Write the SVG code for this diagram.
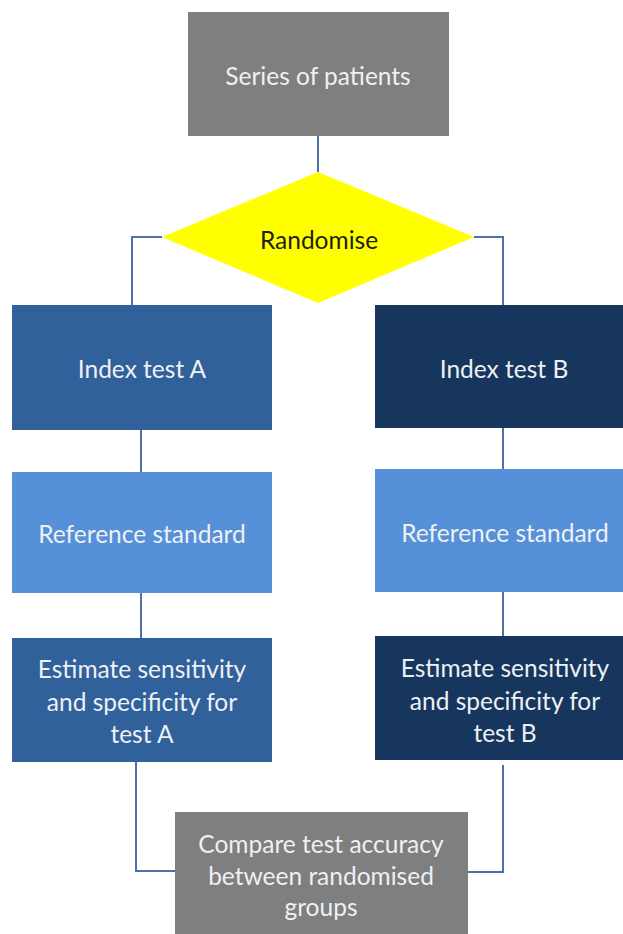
<svg xmlns="http://www.w3.org/2000/svg" width="623" height="934" viewBox="0 0 623 934">
<style>
.t{font-family:Lato,"Open Sans","Liberation Sans",sans-serif;font-size:24.5px;fill:#eef0f4;text-anchor:middle;dominant-baseline:central}
.dk{fill:#1e1e10}
.gray{fill:#7f7f7f}
.a{fill:#30619b}
.b{fill:#17365d}
.r{fill:#5590d8}
.c{fill:none;stroke:#4f72a6;stroke-width:2}
</style>
<rect width="623" height="934" fill="#ffffff"/>
<g id="connectors">
<path class="c" d="M318 136V172"/>
<path class="c" d="M162 237H132V305"/>
<path class="c" d="M474 237H503V305"/>
<path class="c" d="M141 430V472"/>
<path class="c" d="M503 428V469"/>
<path class="c" d="M141 593V638"/>
<path class="c" d="M503 592V636"/>
<path class="c" d="M136 762V871H175"/>
<path class="c" d="M503 765V872H468"/>
</g>
<g id="series">
<rect class="gray" x="188" y="12" width="261" height="124"/>
<text class="t" x="318" y="75">Series of patients</text>
</g>
<g id="randomise">
<polygon points="318,172 474,237 318,303 162,237" fill="#ffff00"/>
<text class="t dk" x="319" y="239" font-size="22.5">Randomise</text>
</g>
<g id="indexA">
<rect class="a" x="12" y="305" width="260" height="125"/>
<text class="t" x="142" y="368">Index test A</text>
</g>
<g id="indexB">
<rect class="b" x="375" y="305" width="248" height="123"/>
<text class="t" x="504" y="368">Index test B</text>
</g>
<g id="refA">
<rect class="r" x="12" y="472" width="260" height="121"/>
<text class="t" x="142" y="533">Reference standard</text>
</g>
<g id="refB">
<rect class="r" x="375" y="469" width="248" height="123"/>
<text class="t" x="505" y="532">Reference standard</text>
</g>
<g id="estA">
<rect class="a" x="12" y="638" width="260" height="124"/>
<text class="t" x="142" y="668">Estimate sensitivity</text>
<text class="t" x="142" y="701">and specificity for</text>
<text class="t" x="142" y="733">test A</text>
</g>
<g id="estB">
<rect class="b" x="375" y="636" width="248" height="124"/>
<text class="t" x="505" y="667">Estimate sensitivity</text>
<text class="t" x="505" y="700">and specificity for</text>
<text class="t" x="505" y="732">test B</text>
</g>
<g id="compare">
<rect class="gray" x="175" y="812" width="293" height="122"/>
<text class="t" x="321" y="843">Compare test accuracy</text>
<text class="t" x="321" y="875">between randomised</text>
<text class="t" x="321" y="906">groups</text>
</g>
</svg>
